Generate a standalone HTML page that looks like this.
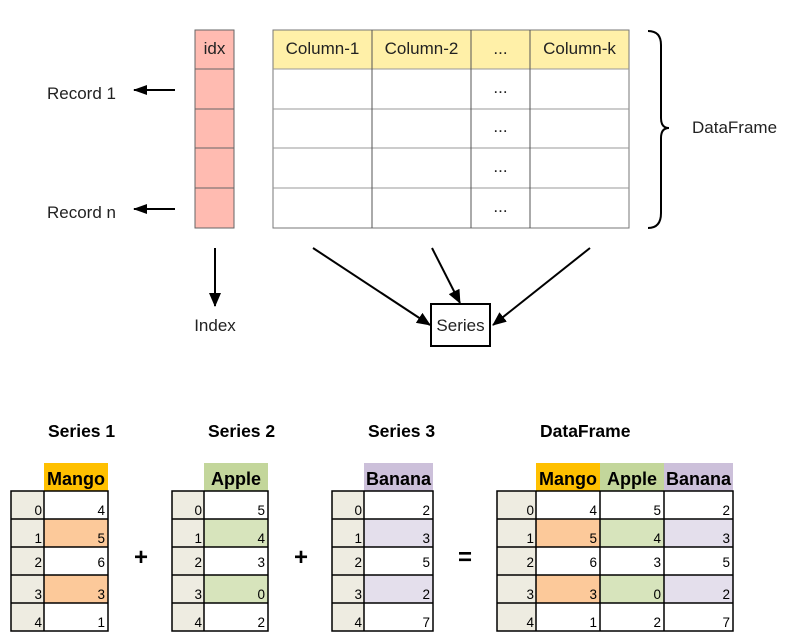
<!DOCTYPE html>
<html><head><meta charset="utf-8"><style>
html,body{margin:0;padding:0;background:#fff;}
svg{display:block;}
.t{font-family:"Liberation Sans",sans-serif;font-size:17px;fill:#222;}
.h{font-family:"Liberation Sans",sans-serif;font-size:17.5px;font-weight:bold;fill:#000;}
.hh{font-family:"Liberation Sans",sans-serif;font-size:18px;font-weight:bold;fill:#000;}
.n{font-family:"Liberation Sans",sans-serif;font-size:13.5px;fill:#000;}
</style></head><body>
<svg width="794" height="643" viewBox="0 0 794 643" xmlns="http://www.w3.org/2000/svg">
<defs><marker id="a" markerWidth="14" markerHeight="10" refX="13" refY="5" orient="auto" markerUnits="userSpaceOnUse"><path d="M0,0 L14,5 L0,10 z" fill="#000"/></marker>
<marker id="b" markerWidth="14" markerHeight="12" refX="13" refY="6" orient="auto" markerUnits="userSpaceOnUse"><path d="M0,0 L14,6 L0,12 z" fill="#000"/></marker></defs>
<rect x="195" y="30" width="39" height="198" fill="#ffbbb1" stroke="#666"/>
<g stroke="#666"><line x1="195" y1="69" x2="234" y2="69"/><line x1="195" y1="109" x2="234" y2="109"/><line x1="195" y1="148" x2="234" y2="148"/><line x1="195" y1="188" x2="234" y2="188"/></g>
<text class="t" x="214.5" y="54" text-anchor="middle">idx</text>
<rect x="273" y="30" width="356" height="39" fill="#fff0a8"/>
<rect x="273" y="30" width="356" height="198" fill="none" stroke="#777"/>
<g stroke="#999"><line x1="273" y1="69" x2="629" y2="69"/><line x1="273" y1="109" x2="629" y2="109"/><line x1="273" y1="148" x2="629" y2="148"/><line x1="273" y1="188" x2="629" y2="188"/></g>
<g stroke="#555"><line x1="372" y1="30" x2="372" y2="228"/><line x1="471" y1="30" x2="471" y2="228"/><line x1="530" y1="30" x2="530" y2="228"/></g>
<text class="t" x="322.5" y="54" text-anchor="middle">Column-1</text>
<text class="t" x="421.5" y="54" text-anchor="middle">Column-2</text>
<text class="t" x="500.5" y="54" text-anchor="middle">...</text>
<text class="t" x="579.5" y="54" text-anchor="middle">Column-k</text>
<g class="t" text-anchor="middle" font-size="13"><text x="500.5" y="93">...</text><text x="500.5" y="132">...</text><text x="500.5" y="172">...</text><text x="500.5" y="212">...</text></g>
<path d="M648,31 Q661,31 661,45 L661,118 Q661,128 669,128 Q661,128 661,138 L661,213 Q661,228 648,228" fill="none" stroke="#000" stroke-width="2"/>
<text class="t" x="692" y="133">DataFrame</text>
<text class="t" x="47" y="99">Record 1</text>
<text class="t" x="47" y="218">Record n</text>
<line x1="175" y1="90" x2="134" y2="90" stroke="#000" stroke-width="2" marker-end="url(#a)"/>
<line x1="175" y1="209" x2="134" y2="209" stroke="#000" stroke-width="2" marker-end="url(#a)"/>
<line x1="215" y1="248" x2="215" y2="306" stroke="#000" stroke-width="2" marker-end="url(#b)"/>
<text class="t" x="215" y="331" text-anchor="middle">Index</text>
<line x1="313" y1="248" x2="430" y2="325" stroke="#000" stroke-width="2" marker-end="url(#b)"/>
<line x1="432" y1="248" x2="460" y2="303" stroke="#000" stroke-width="2" marker-end="url(#b)"/>
<line x1="590" y1="248" x2="493" y2="325" stroke="#000" stroke-width="2" marker-end="url(#b)"/>
<rect x="431" y="304" width="59" height="42" fill="#fff" stroke="#000" stroke-width="2"/>
<text class="t" x="460.5" y="331" text-anchor="middle">Series</text>
<text class="h" x="48" y="437">Series 1</text>
<text class="h" x="208" y="437">Series 2</text>
<text class="h" x="368" y="437">Series 3</text>
<text class="h" x="540" y="437">DataFrame</text>
<rect x="44" y="463" width="64" height="28" fill="#ffc000"/><text class="hh" x="76" y="485" text-anchor="middle">Mango</text>
<rect x="204" y="463" width="64" height="28" fill="#c3d69b"/><text class="hh" x="236" y="485" text-anchor="middle">Apple</text>
<rect x="364" y="463" width="69" height="28" fill="#ccc0da"/><text class="hh" x="398.5" y="485" text-anchor="middle">Banana</text>
<rect x="536" y="463" width="64" height="28" fill="#ffc000"/><text class="hh" x="568" y="485" text-anchor="middle">Mango</text>
<rect x="600" y="463" width="64" height="28" fill="#c3d69b"/><text class="hh" x="632" y="485" text-anchor="middle">Apple</text>
<rect x="664" y="463" width="69" height="28" fill="#ccc0da"/><text class="hh" x="698.5" y="485" text-anchor="middle">Banana</text>
<g fill="#eeece1"><rect x="11" y="491" width="33" height="140"/><rect x="172" y="491" width="32" height="140"/><rect x="332" y="491" width="32" height="140"/><rect x="497" y="491" width="39" height="140"/></g>
<g fill="#fcc99a"><rect x="44" y="519" width="64" height="28"/><rect x="44" y="575" width="64" height="28"/><rect x="536" y="519" width="64" height="28"/><rect x="536" y="575" width="64" height="28"/></g>
<g fill="#d7e4bc"><rect x="204" y="519" width="64" height="28"/><rect x="204" y="575" width="64" height="28"/><rect x="600" y="519" width="64" height="28"/><rect x="600" y="575" width="64" height="28"/></g>
<g fill="#e4dfec"><rect x="364" y="519" width="69" height="28"/><rect x="364" y="575" width="69" height="28"/><rect x="664" y="519" width="69" height="28"/><rect x="664" y="575" width="69" height="28"/></g>
<g stroke="#000" stroke-width="1.5" fill="none">
<rect x="11" y="491" width="97" height="140"/><line x1="44" y1="491" x2="44" y2="631"/>
<rect x="172" y="491" width="96" height="140"/><line x1="204" y1="491" x2="204" y2="631"/>
<rect x="332" y="491" width="101" height="140"/><line x1="364" y1="491" x2="364" y2="631"/>
<rect x="497" y="491" width="236" height="140"/><line x1="536" y1="491" x2="536" y2="631"/><line x1="600" y1="491" x2="600" y2="631"/><line x1="664" y1="491" x2="664" y2="631"/>
<path d="M11,519H108M11,547H108M11,575H108M11,603H108"/>
<path d="M172,519H268M172,547H268M172,575H268M172,603H268"/>
<path d="M332,519H433M332,547H433M332,575H433M332,603H433"/>
<path d="M497,519H733M497,547H733M497,575H733M497,603H733"/>
</g>
<g class="n" text-anchor="end">
<text x="42" y="515">0</text><text x="42" y="543">1</text><text x="42" y="567">2</text><text x="42" y="599">3</text><text x="42" y="627">4</text>
<text x="105" y="515">4</text><text x="105" y="543">5</text><text x="105" y="567">6</text><text x="105" y="599">3</text><text x="105" y="627">1</text>
<text x="202" y="515">0</text><text x="202" y="543">1</text><text x="202" y="567">2</text><text x="202" y="599">3</text><text x="202" y="627">4</text>
<text x="265" y="515">5</text><text x="265" y="543">4</text><text x="265" y="567">3</text><text x="265" y="599">0</text><text x="265" y="627">2</text>
<text x="362" y="515">0</text><text x="362" y="543">1</text><text x="362" y="567">2</text><text x="362" y="599">3</text><text x="362" y="627">4</text>
<text x="430" y="515">2</text><text x="430" y="543">3</text><text x="430" y="567">5</text><text x="430" y="599">2</text><text x="430" y="627">7</text>
<text x="534" y="515">0</text><text x="534" y="543">1</text><text x="534" y="567">2</text><text x="534" y="599">3</text><text x="534" y="627">4</text>
<text x="597" y="515">4</text><text x="597" y="543">5</text><text x="597" y="567">6</text><text x="597" y="599">3</text><text x="597" y="627">1</text>
<text x="661" y="515">5</text><text x="661" y="543">4</text><text x="661" y="567">3</text><text x="661" y="599">0</text><text x="661" y="627">2</text>
<text x="730" y="515">2</text><text x="730" y="543">3</text><text x="730" y="567">5</text><text x="730" y="599">2</text><text x="730" y="627">7</text>
</g>
<g font-family="Liberation Sans,sans-serif" font-weight="bold" font-size="24" text-anchor="middle" fill="#000">
<text x="141" y="565">+</text><text x="301" y="565">+</text><text x="465" y="565">=</text></g>
</svg>
</body></html>
